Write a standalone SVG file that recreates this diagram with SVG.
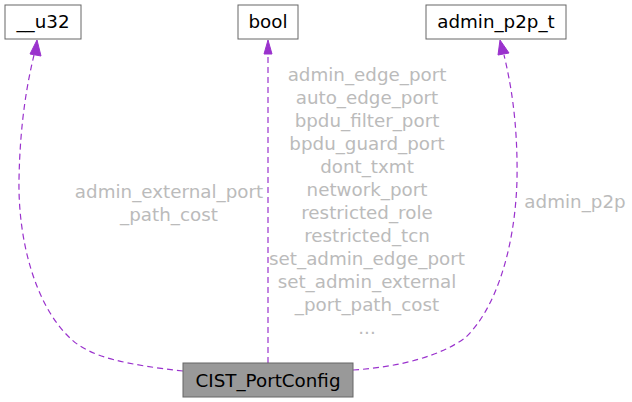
<svg xmlns="http://www.w3.org/2000/svg" width="632" height="402" viewBox="0 0 632 402">
<style>
.box{fill:#fff;stroke:#666;stroke-width:1}
.main{fill:#999;stroke:#666;stroke-width:1}
.t{font-family:"DejaVu Sans",sans-serif;font-size:18.3px;fill:#000;text-anchor:middle}
.lbl{font-family:"DejaVu Sans",sans-serif;font-size:18.3px;fill:#bbb;text-anchor:middle}
.e{fill:none;stroke:#9a32cd;stroke-width:1.2;stroke-dasharray:6,4}
.ah{fill:#9a32cd;stroke:#9a32cd}
</style>
<g id="connectors">
<path class="e" d="M183,371 C130,365 90,358 70,338 C35,305 18,240 19,180 C20,120 28,80 34,55"/>
<polygon class="ah" points="30,54 37,40 41,56"/>
<path class="e" d="M268,363 L268,54"/>
<polygon class="ah" points="264,54 268,40 272,54"/>
<path class="e" d="M353,370 C400,367 440,356 465,338 C495,310 515,250 517,180 C518,120 510,80 504,55"/>
<polygon class="ah" points="498,55 500,40 509,53"/>
</g>
<g id="lbl-u32">
<text class="lbl" x="169" y="198">admin_external_port</text>
<text class="lbl" x="169" y="221">_path_cost</text>
</g>
<g id="lbl-bool">
<text class="lbl" x="367" y="81">admin_edge_port</text>
<text class="lbl" x="367" y="104">auto_edge_port</text>
<text class="lbl" x="367" y="127">bpdu_filter_port</text>
<text class="lbl" x="367" y="150">bpdu_guard_port</text>
<text class="lbl" x="367" y="173">dont_txmt</text>
<text class="lbl" x="367" y="196">network_port</text>
<text class="lbl" x="367" y="219">restricted_role</text>
<text class="lbl" x="367" y="242">restricted_tcn</text>
<text class="lbl" x="367" y="265">set_admin_edge_port</text>
<text class="lbl" x="367" y="288">set_admin_external</text>
<text class="lbl" x="367" y="311">_port_path_cost</text>
<text class="lbl" x="367" y="334">...</text>
</g>
<g id="lbl-p2p">
<text class="lbl" x="575" y="208">admin_p2p</text>
</g>
<g id="node-u32">
<rect class="box" x="5" y="5" width="76" height="34"/>
<text class="t" x="43" y="28">__u32</text>
</g>
<g id="node-bool">
<rect class="box" x="238" y="5" width="60" height="34"/>
<text class="t" x="268" y="28">bool</text>
</g>
<g id="node-p2p">
<rect class="box" x="426" y="5" width="140" height="34"/>
<text class="t" x="496" y="28">admin_p2p_t</text>
</g>
<g id="node-main">
<rect class="main" x="183" y="363" width="170" height="34"/>
<text class="t" x="268" y="387">CIST_PortConfig</text>
</g>
</svg>
